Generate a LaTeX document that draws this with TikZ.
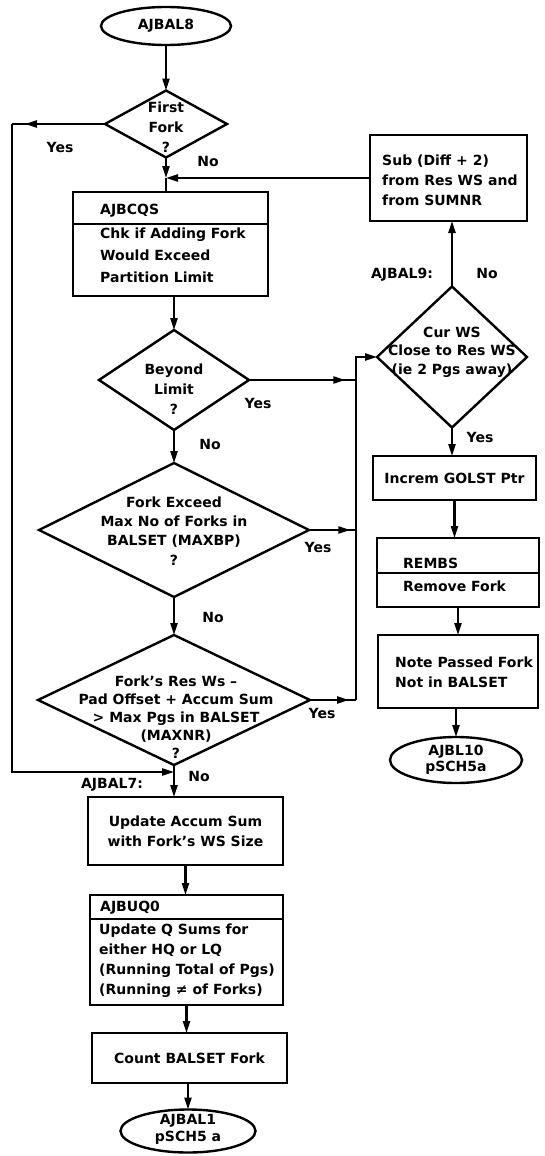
\documentclass[tikz,border=0pt]{standalone}
\usepackage{fontspec}
\setmainfont{DejaVu Sans}
\usetikzlibrary{arrows.meta,shapes.geometric,decorations.markings}

\begin{document}
\begin{tikzpicture}[x=1pt,y=-1pt,
  box/.style={draw, rectangle, line width=2.4pt, inner sep=0pt, outer sep=0pt},
  dec/.style={draw, diamond, line width=2.4pt, inner sep=0pt, outer sep=0pt},
  term/.style={draw, ellipse, line width=2.4pt, inner sep=0pt, outer sep=0pt},
  txt/.style={font=\bfseries\fontsize{14}{20}\selectfont, inner sep=0pt, align=center},
  ltxt/.style={txt, align=left, anchor=west},
  flow/.style={line width=2.2pt},
  arr/.style={flow, -{Triangle[length=12pt,width=7pt]}},
  midarr/.style={flow, postaction={decorate, decoration={markings,
      mark=at position #1 with {\arrow{Triangle[length=12pt,width=7pt]}}}}},
]
\useasboundingbox (0,0) rectangle (545,1156);

% ---------- left column ----------
\node[term, minimum width=130pt, minimum height=38pt] (start) at (166,26) {};
\node[txt] (start-t) at (start) {AJBAL8};

\node[dec, minimum width=122pt, minimum height=67pt] (ff) at (166,124) {};
\node[txt] (ff-t) at (166,127) {First\\Fork\\?};

\node[box, minimum width=195pt, minimum height=104pt] (cqs) at (170.5,244) {};
\draw[line width=2.4pt] (cqs.west |- 0,224) -- (cqs.east |- 0,224);
\node[ltxt] (cqs-h) at (100,211) {AJBCQS};
\node[ltxt, font=\bfseries\fontsize{14}{22}\selectfont] (cqs-t) at (100,255)
  {Chk if Adding Fork\\Would Exceed\\Partition Limit};

\node[dec, minimum width=150pt, minimum height=100pt] (bl) at (174,380) {};
\node[txt] (bl-t) at (174,389) {Beyond\\Limit\\?};

\node[dec, minimum width=270pt, minimum height=134pt] (fe) at (174,530) {};
\node[txt, font=\bfseries\fontsize{14}{19.3}\selectfont] (fe-t) at (174,531)
  {Fork Exceed\\Max No of Forks in\\BALSET (MAXBP)\\?};

\node[dec, minimum width=272pt, minimum height=130pt] (d3) at (174,700) {};
\node[txt, font=\bfseries\fontsize{14}{18}\selectfont] (d3-t) at (176,717)
  {Fork’s Res Ws –\\Pad Offset + Accum Sum\\> Max Pgs in BALSET\\(MAXNR)\\?};

\node[box, minimum width=195pt, minimum height=68pt] (upd) at (185.5,831) {};
\node[txt] (upd-t) at (upd) {Update Accum Sum\\with Fork’s WS Size};

\node[box, minimum width=193pt, minimum height=110pt] (uq0) at (186.5,950) {};
\draw[line width=2.4pt] (uq0.west |- 0,919) -- (uq0.east |- 0,919);
\node[ltxt] (uq0-h) at (100,908) {AJBUQ0};
\node[ltxt] (uq0-t) at (99,961)
  {Update Q Sums for\\either HQ or LQ\\(Running Total of Pgs)\\(Running ≠ of Forks)};

\node[box, minimum width=195pt, minimum height=50pt] (cnt) at (189.5,1058) {};
\node[txt] (cnt-t) at (cnt) {Count BALSET Fork};

\node[term, minimum width=135pt, minimum height=43pt] (end2) at (188,1131) {};
\node[txt, font=\bfseries\fontsize{14}{17}\selectfont] (end2-t) at (188,1129) {AJBAL1\\pSCH5 a};

% ---------- right column ----------
\node[box, minimum width=157pt, minimum height=86pt] (sub) at (448.5,178) {};
\node[ltxt] (sub-t) at (382,180) {Sub (Diff + 2)\\from Res WS and\\from SUMNR};

\node[dec, minimum width=150pt, minimum height=141pt] (cw) at (452,357) {};
\node[txt, font=\bfseries\fontsize{14}{18.5}\selectfont] (cw-t) at (452,352)
  {Cur WS\\Close to Res WS\\(ie 2 Pgs away)};

\node[box, minimum width=163pt, minimum height=44pt] (inc) at (454.5,478) {};
\node[txt] (inc-t) at (inc) {Increm GOLST Ptr};

\node[box, minimum width=162pt, minimum height=69pt] (rem) at (458,572.5) {};
\draw[line width=2.4pt] (rem.west |- 0,573) -- (rem.east |- 0,573);
\node[ltxt] (rem-h) at (403,563) {REMBS};
\node[ltxt] (rem-t) at (403,586) {Remove Fork};

\node[box, minimum width=160pt, minimum height=73pt] (note) at (458,671.5) {};
\node[ltxt] (note-t) at (395,672) {Note Passed Fork\\Not in BALSET};

\node[term, minimum width=132pt, minimum height=46pt] (end1) at (456,760) {};
\node[txt, font=\bfseries\fontsize{14}{16}\selectfont] (end1-t) at (456,760) {AJBL10\\pSCH5a};

% ---------- branch labels ----------
\node[txt] (y1) at (60,147) {Yes};
\node[txt] (n1) at (208,161) {No};
\node[txt] (y2) at (258,403) {Yes};
\node[txt] (n2) at (210,444) {No};
\node[txt] (y3) at (318,547) {Yes};
\node[txt] (n3) at (213,617) {No};
\node[txt] (y4) at (322,713) {Yes};
\node[txt] (n4) at (199,776) {No};
\node[txt] (l7) at (112,785) {AJBAL7:};
\node[txt] (l9) at (402,275) {AJBAL9:};
\node[txt] (n5) at (487,273) {No};
\node[txt] (y5) at (480,437) {Yes};

% ---------- junction points ----------
\coordinate (m1) at (ff.south |- sub.west);
\coordinate (lt) at (12,124);
\coordinate (lb) at (12,772);
\coordinate (m7) at (d3.south |- 0,772);
\coordinate (bt) at (356,357);
\coordinate (bb) at (356,700);

% ---------- connectors ----------
\draw[arr] (start) -- (ff.north);
\draw[arr] (ff.south) -- (m1);
\draw[flow] (m1) -- (ff.south |- cqs.north);
\draw[arr] (sub.west) -- (m1);
\draw[midarr=0.86] (ff.west) -- (lt);
\draw[arr] (lt) -- (lb) -- (m7);
\draw[arr] (bl.north |- cqs.south) -- (bl.north);
\draw[arr] (bl.south) -- (fe.north);
\draw[arr] (fe.south) -- (d3.north);
\draw[arr] (d3.south) -- (d3.south |- upd.north);
\draw[arr] (upd.south) -- (upd.south |- uq0.north);
\draw[arr] (uq0.south) -- (uq0.south |- cnt.north);
\draw[arr] (end2.north |- cnt.south) -- (end2.north);

\draw[midarr=0.9] (bl.east) -- (bl.east -| bt);
\draw[midarr=0.88] (fe.east) -- (fe.east -| bt);
\draw[midarr=0.85] (d3.east) -- (bb);
\draw[arr] (bb) -- (bt) -- (cw.west);

\draw[arr] (cw.north) -- (cw.north |- sub.south);
\draw[arr] (cw.south) -- (cw.south |- inc.north);
\draw[arr] (inc.south) -- (inc.south |- rem.north);
\draw[arr] (rem.south) -- (rem.south |- note.north);
\draw[arr] (end1.north |- note.south) -- (end1.north);
\end{tikzpicture}
\end{document}
